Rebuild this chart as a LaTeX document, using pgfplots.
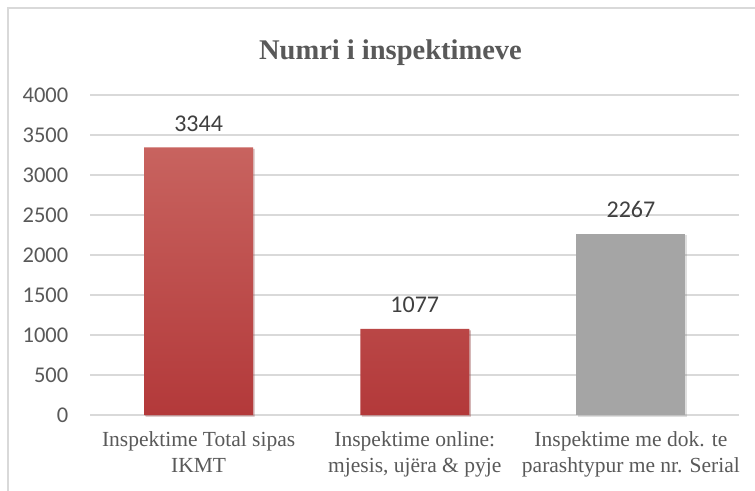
\documentclass[border=0pt]{standalone}
\usepackage{pgfplots}
\pgfplotsset{compat=1.18}
\usepackage{fontspec}
\setmainfont{Liberation Serif}
\newfontfamily\carlito{Carlito}
\usetikzlibrary{shadows}
\definecolor{gridc}{HTML}{D9D9D9}
\definecolor{txt}{HTML}{595959}
\definecolor{lbl}{HTML}{404040}
\definecolor{redtop}{HTML}{C8635F}
\definecolor{redbot}{HTML}{B3393A}
\definecolor{grayb}{HTML}{A5A5A5}
\begin{document}
\begin{tikzpicture}
\useasboundingbox (-90.5pt,-75pt) rectangle (664.5pt,415pt);
\fill[white] (-90.5pt,-75pt) rectangle (664.5pt,415pt);
\draw[gridc, line width=1.2pt] (-82.5pt,-80pt) -- (-82.5pt,407pt) -- (670pt,407pt);
\node[anchor=base, text=txt, font=\bfseries\fontsize{28.5}{28.5}\selectfont] at (300pt,355pt) {Numri i inspektimeve};
\begin{axis}[
  at={(0pt,0pt)}, anchor=south west, scale only axis,
  width=648.5pt, height=320pt,
  xmin=-0.5, xmax=2.5, ymin=0, ymax=4000,
  ytick={0,500,...,4000},
  xtick={0,1,2},
  xticklabels={{Inspektime Total sipas\\IKMT},{Inspektime online:\\mjesis, ujëra \& pyje},{Inspektime me dok. te\\parashtypur me nr. Serial}},
  /pgf/number format/1000 sep={},
  /pgf/number format/assume math mode=true,
  axis line style={draw=none},
  major tick length=0pt,
  ymajorgrids,
  major grid style={gridc, line width=1.2pt},
  yticklabel style={font=\carlito\fontsize{22.5}{22.5}\selectfont, text=txt, inner sep=0pt, anchor=east, xshift=-22pt},
  xticklabel style={font=\fontsize{21.5}{26}\selectfont, text=txt, align=center, inner sep=0pt, anchor=north, yshift=-16pt},
  nodes near coords,
  every node near coord/.append style={font=\carlito\fontsize{24}{24}\selectfont, text=lbl, inner sep=0pt, anchor=south, yshift=16pt},
  clip=false,
]
\addplot[ybar, bar width=109pt, bar shift=0pt, draw=none, top color=redtop, bottom color=redbot,
  drop shadow={opacity=0.25, shadow xshift=1.5pt, shadow yshift=-1.5pt}]
  coordinates {(0,3344) (1,1077)};
\addplot[ybar, bar width=109pt, bar shift=0pt, draw=none, fill=grayb,
  drop shadow={opacity=0.25, shadow xshift=1.5pt, shadow yshift=-1.5pt}]
  coordinates {(2,2267)};
\end{axis}
\end{tikzpicture}
\end{document}
